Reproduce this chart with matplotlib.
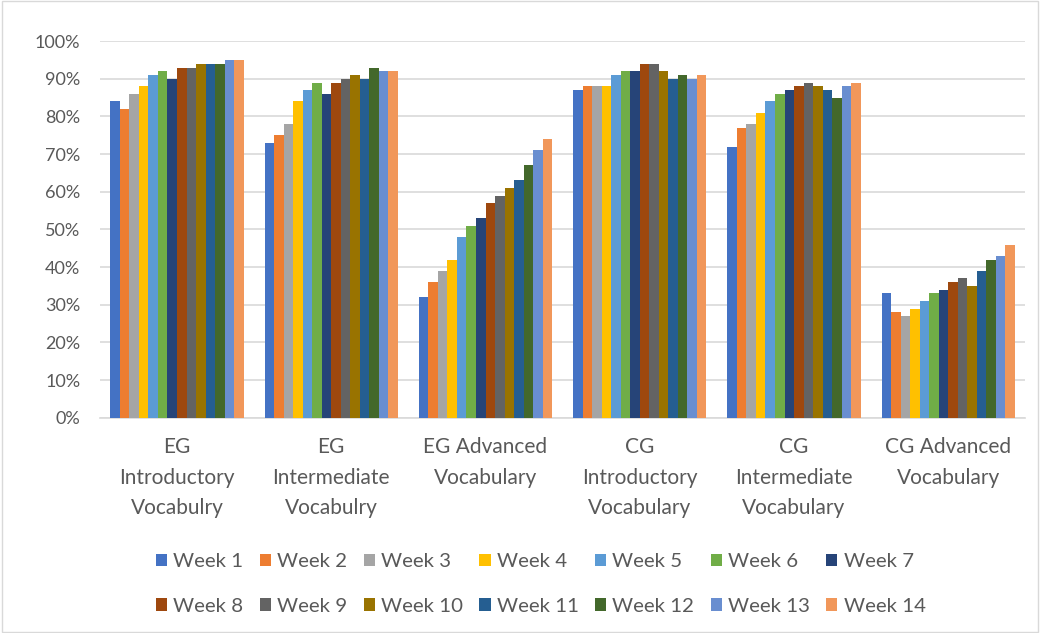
import matplotlib.pyplot as plt
import numpy as np

categories = ['EG\nIntroductory\nVocabulry', 'EG\nIntermediate\nVocabulry', 'EG Advanced\nVocabulary',
              'CG\nIntroductory\nVocabulary', 'CG\nIntermediate\nVocabulary', 'CG Advanced\nVocabulary']
weeks = ['Week %d' % i for i in range(1, 15)]

# percent per category, one list per week
eg_intro = [84, 82, 86, 88, 91, 92, 90, 93, 93, 94, 94, 94, 95, 95]
eg_inter = [73, 75, 78, 84, 87, 89, 86, 89, 90, 91, 90, 93, 92, 92]
eg_adv = [32, 36, 39, 42, 48, 51, 53, 57, 59, 61, 63, 67, 71, 74]
cg_intro = [87, 88, 88, 88, 91, 92, 92, 94, 94, 92, 90, 91, 90, 91]
cg_inter = [72, 77, 78, 81, 84, 86, 87, 88, 89, 88, 87, 85, 88, 89]
cg_adv = [33, 28, 27, 29, 31, 33, 34, 36, 37, 35, 39, 42, 43, 46]

colors = ['#4472C4', '#ED7D31', '#A5A5A5', '#FFC000', '#5B9BD5', '#70AD47', '#264478',
          '#9E480E', '#636363', '#997300', '#255E91', '#43682B', '#698ED0', '#F1975A']

plt.rcParams['font.family'] = ['Lato', 'DejaVu Sans']

data = np.array([eg_intro, eg_inter, eg_adv, cg_intro, cg_inter, cg_adv]) / 100.0

fig = plt.figure(figsize=(10.4, 6.33), dpi=100)
ax = fig.add_axes([0.096, 0.340, 0.890, 0.595])

x = np.arange(len(categories))
w = 0.865 / 14
bars = []
for i in range(14):
    b = ax.bar(x - 0.865 / 2 + w * (i + 0.5), data[:, i], width=w, color=colors[i],
               label=weeks[i], zorder=3)
    bars.append(b)

ax.set_xlim(-0.5, 5.5)
ax.set_ylim(0, 1.0)
ax.set_yticks(np.arange(0, 1.01, 0.1))
ax.set_yticklabels(['%d%%' % v for v in range(0, 101, 10)])
ax.set_xticks(x)
ax.set_xticklabels(categories, linespacing=1.65)
ax.tick_params(axis='both', length=0, colors='#595959', labelsize=13)
ax.tick_params(axis='x', pad=14, labelsize=15)
ax.tick_params(axis='y', pad=14)
ax.grid(axis='y', color='#D9D9D9', linewidth=1.2, zorder=0)
for s in ['top', 'right', 'left']:
    ax.spines[s].set_visible(False)
ax.spines['bottom'].set_color('#D9D9D9')
ax.spines['bottom'].set_linewidth(1.2)

# legend fills column by column, so reorder to get row-major layout
order = [0, 7, 1, 8, 2, 9, 3, 10, 4, 11, 5, 12, 6, 13]
leg = fig.legend([bars[i] for i in order], [weeks[i] for i in order],
                 loc='lower center', bbox_to_anchor=(0.52, 0.0), ncol=7, frameon=False,
                 fontsize=14.7, handlelength=0.55, handleheight=0.55, handletextpad=0.3,
                 columnspacing=0.8, labelspacing=1.35, labelcolor='#595959')

fig.patches.append(plt.Rectangle((0.002, 0.002), 0.996, 0.996, transform=fig.transFigure,
                                 fill=False, edgecolor='#D9D9D9', linewidth=1))

fig.savefig('out.png', dpi=100)
